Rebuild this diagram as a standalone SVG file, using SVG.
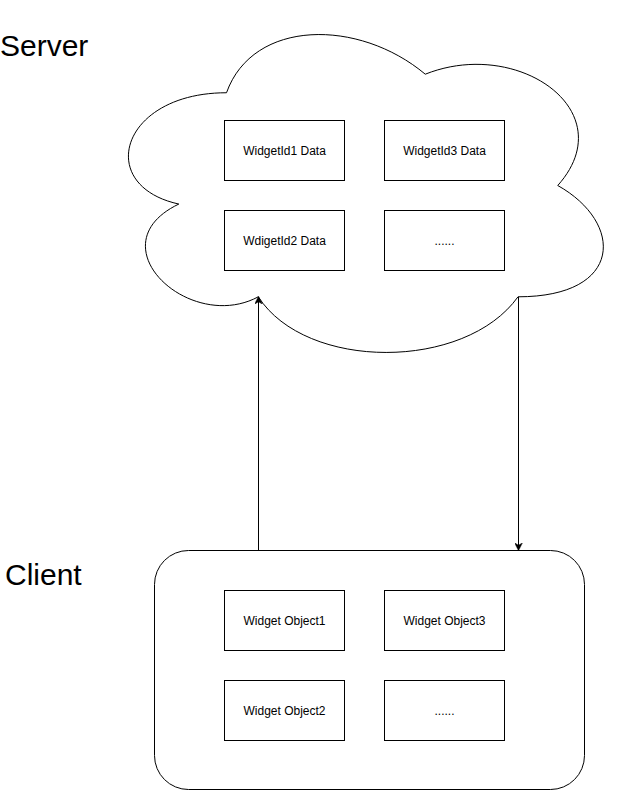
<svg xmlns="http://www.w3.org/2000/svg" width="625" height="791" viewBox="0 0 625 791">
<style>
.shape{fill:#fff;stroke:#000;stroke-width:1}
.lbl{font-family:"Liberation Sans",Arial,sans-serif;font-size:12px;fill:#000;text-anchor:middle}
.big{font-family:"Liberation Sans",Arial,sans-serif;font-size:30px;fill:#000}
.edge{fill:none;stroke:#000;stroke-width:1}
</style>
<defs>
<marker id="arr" viewBox="0 0 10 10" refX="9" refY="5" markerWidth="8" markerHeight="8" markerUnits="userSpaceOnUse" orient="auto">
<path d="M0,0 L10,5 L0,10 L3,5 Z" fill="#000" stroke="#000" stroke-width="0.5"/>
</marker>
</defs>
<rect width="625" height="791" fill="#fff"/>
<g id="server-label"><text class="big" x="0" y="56">Server</text></g>
<g id="client-label"><text class="big" x="5" y="585">Client</text></g>
<g id="cloud">
<path class="shape" d="M226.5,92.75 C120.5,92.75 94,185.5 178.8,204.05 C94,244.86 189.4,333.9 258.3,296.8 C306,371 465,371 518,296.8 C624,296.8 624,222.6 557.75,185.5 C624,111.3 518,37.1 425.25,74.2 C359,18.55 253,18.55 226.5,92.75 Z"/>
</g>
<g id="data1"><rect class="shape" x="224.5" y="120.5" width="120" height="60"/><text class="lbl" x="284.5" y="155">WidgetId1 Data</text></g>
<g id="data3"><rect class="shape" x="384.5" y="120.5" width="120" height="60"/><text class="lbl" x="444.5" y="155">WidgetId3 Data</text></g>
<g id="data2"><rect class="shape" x="224.5" y="210.5" width="120" height="60"/><text class="lbl" x="284.5" y="245">WdigetId2 Data</text></g>
<g id="data4"><rect class="shape" x="384.5" y="210.5" width="120" height="60"/><text class="lbl" x="444.5" y="245">......</text></g>
<g id="client">
<rect class="shape" x="154.5" y="550.5" width="430" height="239" rx="34" ry="34"/>
</g>
<g id="obj1"><rect class="shape" x="224.5" y="590.5" width="120" height="60"/><text class="lbl" x="284.5" y="625">Widget Object1</text></g>
<g id="obj3"><rect class="shape" x="384.5" y="590.5" width="120" height="60"/><text class="lbl" x="444.5" y="625">Widget Object3</text></g>
<g id="obj2"><rect class="shape" x="224.5" y="680.5" width="120" height="60"/><text class="lbl" x="284.5" y="715">Widget Object2</text></g>
<g id="obj4"><rect class="shape" x="384.5" y="680.5" width="120" height="60"/><text class="lbl" x="444.5" y="715">......</text></g>
<g id="connectors">
<path class="edge" d="M258.5,550 L258.5,297" marker-end="url(#arr)"/>
<path class="edge" d="M518.5,297 L518.5,550" marker-end="url(#arr)"/>
</g>
</svg>
